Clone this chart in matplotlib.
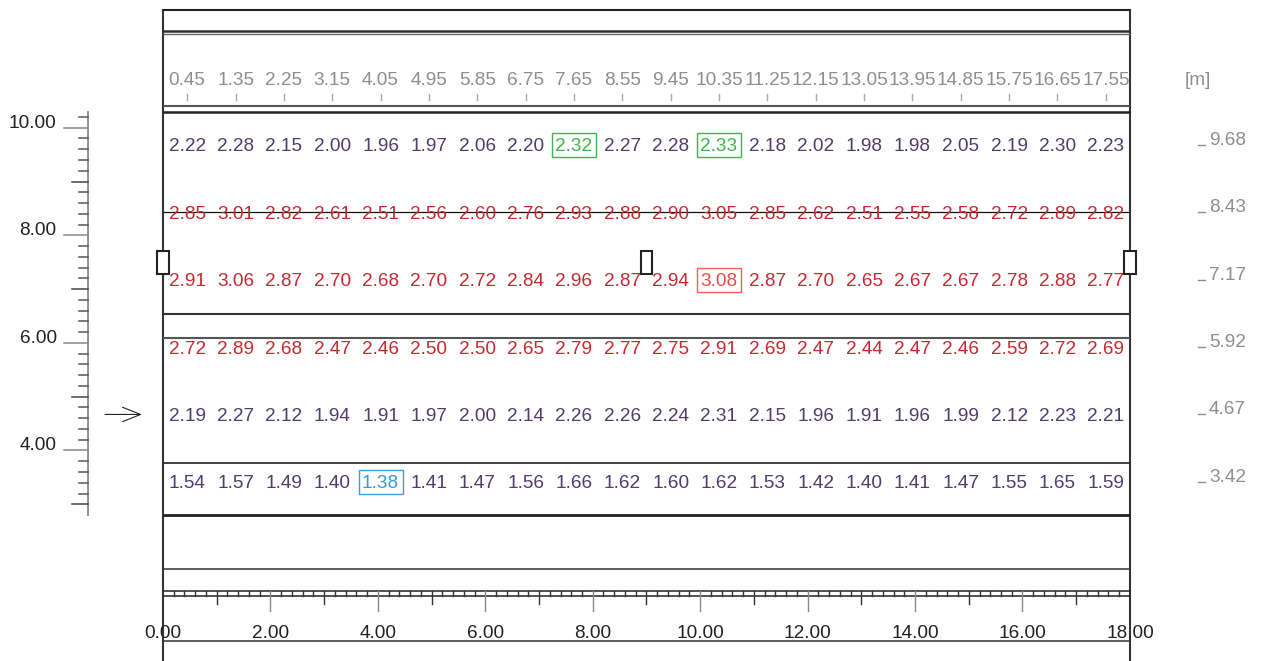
import matplotlib
matplotlib.use("Agg")
import matplotlib.pyplot as plt
from matplotlib.patches import Rectangle

plt.rcParams['font.family'] = ['Liberation Sans', 'DejaVu Sans']

# ---------------- data ----------------
col_x = [0.45, 1.35, 2.25, 3.15, 4.05, 4.95, 5.85, 6.75, 7.65, 8.55,
         9.45, 10.35, 11.25, 12.15, 13.05, 13.95, 14.85, 15.75, 16.65, 17.55]
row_y = [9.68, 8.43, 7.17, 5.92, 4.67, 3.42]
values = [
    [2.22, 2.28, 2.15, 2.00, 1.96, 1.97, 2.06, 2.20, 2.32, 2.27, 2.28, 2.33, 2.18, 2.02, 1.98, 1.98, 2.05, 2.19, 2.30, 2.23],
    [2.85, 3.01, 2.82, 2.61, 2.51, 2.56, 2.60, 2.76, 2.93, 2.88, 2.90, 3.05, 2.85, 2.62, 2.51, 2.55, 2.58, 2.72, 2.89, 2.82],
    [2.91, 3.06, 2.87, 2.70, 2.68, 2.70, 2.72, 2.84, 2.96, 2.87, 2.94, 3.08, 2.87, 2.70, 2.65, 2.67, 2.67, 2.78, 2.88, 2.77],
    [2.72, 2.89, 2.68, 2.47, 2.46, 2.50, 2.50, 2.65, 2.79, 2.77, 2.75, 2.91, 2.69, 2.47, 2.44, 2.47, 2.46, 2.59, 2.72, 2.69],
    [2.19, 2.27, 2.12, 1.94, 1.91, 1.97, 2.00, 2.14, 2.26, 2.26, 2.24, 2.31, 2.15, 1.96, 1.91, 1.96, 1.99, 2.12, 2.23, 2.21],
    [1.54, 1.57, 1.49, 1.40, 1.38, 1.41, 1.47, 1.56, 1.66, 1.62, 1.60, 1.62, 1.53, 1.42, 1.40, 1.41, 1.47, 1.55, 1.65, 1.59],
]
# highlighted cells: (row index, column index, kind)
highlights = [(0, 8, 'green'), (0, 11, 'green'), (2, 11, 'max'), (5, 4, 'min')]
x_labels = [0, 2, 4, 6, 8, 10, 12, 14, 16, 18]
y_labels = [10, 8, 6, 4]
luminaires_x = [0.0, 9.0, 18.0]
luminaires_y = [7.5, 7.5, 7.5]
arrow_row = 4.67
threshold = 2.4

# ---------------- style ----------------
FS = 13.7
PURPLE = '#4f3d6c'
RED = '#c42a30'
GRAY = '#8e8e8e'
DARK = '#222222'
hl_style = {'green': ('#3db54a', '#3db54a'),
            'max': ('#f06060', '#e84a4a'),
            'min': ('#3aa0dc', '#3a9ad6')}

fig = plt.figure(figsize=(12.63, 6.61), dpi=100)
ax = fig.add_axes([0, 0, 1, 1])
ax.set_xlim(-3.034, 20.477)
ax.set_ylim(0.087, 12.374)
ax.axis('off')

X0, X1 = 0.0, 18.0

def hline(y, lw=1.2, color='#222222'):
    ax.plot([X0, X1], [y, y], color=color, lw=lw, solid_capstyle='butt')

# frame
ax.plot([X0, X0], [0.0, 12.188], color='#333333', lw=1.5)
ax.plot([X1, X1], [0.0, 12.188], color='#333333', lw=1.5)
hline(12.188, 1.5)
hline(11.797, 1.8, '#333333')
hline(11.736, 1.0, '#666666')
hline(10.403, 1.5, '#555555')
hline(10.297, 1.8, '#222222')
hline(8.43, 0.9, '#111111')
hline(6.543, 1.5, '#333333')
hline(6.097, 1.5, '#555555')
hline(3.762, 1.2, '#222222')
hline(2.801, 2.0, '#222222')
hline(1.797, 1.1, '#333333')
hline(1.389, 1.1, '#222222')
hline(1.296, 1.1, '#222222')
hline(0.459, 1.1, '#333333')

# header labels with ticks
for x in col_x:
    ax.text(x, 10.922, f"{x:.2f}", ha='center', va='center_baseline', fontsize=FS, color=GRAY)
    ax.plot([x, x], [10.626, 10.515], color='#aaaaaa', lw=1.0)
ax.text(19.27, 10.922, "[m]", ha='center', va='center_baseline', fontsize=FS, color=GRAY)

# values
for r, (y, row) in enumerate(zip(row_y, values)):
    for c, (x, v) in enumerate(zip(col_x, row)):
        color = RED if v > threshold else PURPLE
        ax.text(x, y, f"{v:.2f}", ha='center', va='center_baseline', fontsize=FS, color=color)
    # right-hand labels
    ax.plot([19.27, 19.40], [y, y], color=GRAY, lw=1.0)
    ax.text(19.47, y, f"{y:.2f}", ha='left', va='baseline', fontsize=FS, color=GRAY)

for r, c, kind in highlights:
    ec, tc = hl_style[kind]
    x, y = col_x[c], row_y[r]
    ax.add_patch(Rectangle((x - 0.41, y - 0.225), 0.82, 0.45, fill=True,
                           facecolor='white', edgecolor=ec, lw=1.0, zorder=3))
    ax.text(x, y, f"{values[r][c]:.2f}", ha='center', va='center_baseline',
            fontsize=FS, color=tc, zorder=4)

# luminaire markers
for lx, ly in zip(luminaires_x, luminaires_y):
    ax.add_patch(Rectangle((lx - 0.11, ly - 0.21), 0.22, 0.42, facecolor='white',
                           edgecolor='#222222', lw=1.5, zorder=5))

# left ruler
RX = -1.402
ax.plot([RX, RX], [2.8, 10.3], color='#888888', lw=1.3)
for i in range(15, 52):
    yv = i * 0.2
    if i % 10 == 0:
        x_start, col = -1.843, '#888888'
    elif i % 5 == 0:
        x_start, col = -1.694, '#444444'
    else:
        x_start, col = -1.564, '#555555'
    ax.plot([x_start, RX], [yv, yv], color=col, lw=1.1)
for yl in y_labels:
    ax.text(-1.979, yl, f"{yl:.2f}", ha='right', va='baseline', fontsize=FS, color=DARK)

# arrow
ax.annotate('', xy=(-0.39, arrow_row), xytext=(-1.08, arrow_row),
            arrowprops=dict(arrowstyle='->,head_length=1.0,head_width=0.4',
                            lw=0.8, color='#222222', mutation_scale=13,
                            shrinkA=0, shrinkB=0))

# bottom ruler
for i in range(1, 90):
    xv = i * 0.2
    if i % 10 == 0:
        y_end, col = 1.01, '#888888'
    elif i % 5 == 0:
        y_end, col = 1.15, '#333333'
    else:
        y_end, col = 1.296, '#333333'
    ax.plot([xv, xv], [1.389, y_end], color=col, lw=1.0)
for xl in x_labels:
    ax.text(xl, 0.627, f"{xl:.2f}", ha='center', va='center_baseline', fontsize=FS, color=DARK)

fig.savefig('out.png', dpi=100)
